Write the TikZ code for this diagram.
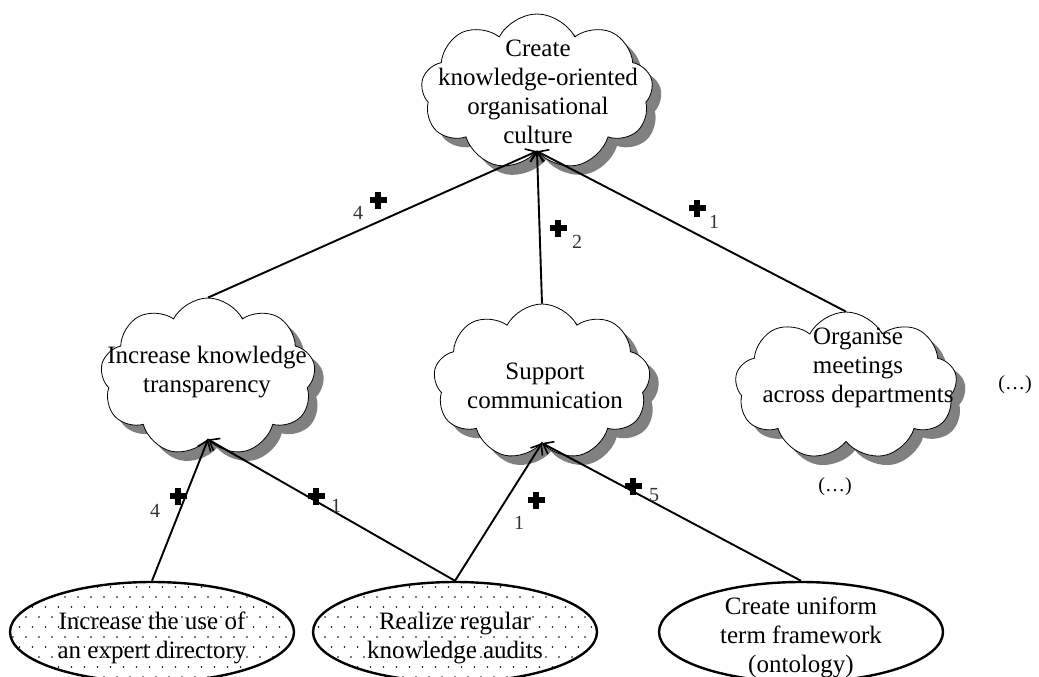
\documentclass[tikz,border=0pt]{standalone}
\usepackage{fontspec}
\setmainfont{Liberation Serif}
\usetikzlibrary{shapes.symbols,shapes.geometric,shadows,arrows.meta,patterns}
\pgfdeclarepatternformonly{sparsedots}{\pgfqpoint{-1pt}{-1pt}}{\pgfqpoint{8pt}{11pt}}{\pgfqpoint{13pt}{20pt}}{%
  \pgfpathcircle{\pgfqpoint{0pt}{0pt}}{0.9pt}%
  \pgfpathcircle{\pgfqpoint{6.5pt}{10pt}}{0.9pt}%
  \pgfusepath{fill}}
\newcommand\heavyplus{\rlap{\rule[5.5pt]{17pt}{6pt}}\hspace*{5.5pt}\rule{6pt}{17pt}\hspace*{5.5pt}}
\tikzset{
  goalcloud/.style={cloud, cloud puffs=9, cloud puff arc=125, cloud ignores aspect,
    draw, fill=white, line width=0.8pt, inner sep=0pt,
    drop shadow={shadow xshift=9pt, shadow yshift=-9pt, fill=black!50, opacity=1}},
  goaltext/.style={align=center, font=\fontsize{25}{29}\selectfont, inner sep=0pt},
  measure/.style={ellipse, draw, line width=2.4pt, minimum width=284pt, minimum height=100pt, inner sep=0pt},
  dotted fill/.style={pattern=sparsedots},
  contrib/.style={line width=1.9pt, -{Straight Barb[length=9pt,width=14pt,line width=1.6pt]}},
  plusmark/.style={inner sep=0pt},
  weight/.style={font=\fontsize{20}{20}\selectfont, text=black!80, inner sep=0pt},
  ellip/.style={font=\fontsize{20}{20}\selectfont, inner sep=0pt}
}
\begin{document}
\begin{tikzpicture}[x=1pt,y=-1pt]
\useasboundingbox (0,0) rectangle (1039,677);
% clouds
\node[goalcloud, minimum width=232pt, minimum height=156pt] (c1) at (537,92) {};
\node[goalcloud, minimum width=215pt, minimum height=158pt] (c2) at (208,377) {};
\node[goalcloud, minimum width=217pt, minimum height=156pt] (c3) at (542,382) {};
\node[goalcloud, minimum width=222pt, minimum height=148pt] (c4) at (846,386) {};
\node[goaltext] (t1) at (538,92) {Create\\knowledge-oriented\\organisational\\culture};
\node[goaltext] (t2) at (207,372) {Increase knowledge\\transparency};
\node[goaltext] (t3) at (545,386) {Support\\communication};
\node[goaltext] (t4) at (858,368) {Organise\\meetings\\across departments};
% measures
\node[measure, dotted fill] (e1) at (152,632) {};
\node[measure, dotted fill] (e2) at (455,632) {};
\node[measure, fill=white] (e3) at (801,632) {};
\node[goaltext] (u1) at (152,638) {Increase the use of\\an expert directory};
\node[goaltext] (u2) at (455,638) {Realize regular\\knowledge audits};
\node[goaltext] (u3) at (801,637) {Create uniform\\term framework\\(ontology)};
% connectors
\draw[contrib] (c2.north) -- (c1.south);
\draw[contrib] (c3.north) -- (c1.south);
\draw[contrib] (c4.north) -- (c1.south);
\draw[contrib] (e1.north) -- (c2.south);
\draw[contrib] (e2.north) -- (c2.south);
\draw[contrib] (e2.north) -- (c3.south);
\draw[contrib] (e3.north) -- (c3.south);
% weights
\node[weight] (w1) at (358,213) {4};
\node[plusmark] (p1) at (378,200) {\heavyplus};
\node[plusmark] (p2) at (558,228) {\heavyplus};
\node[weight] (w2) at (577,242) {2};
\node[plusmark] (p3) at (697,208) {\heavyplus};
\node[weight] (w3) at (714,222) {1};
\node[weight] (w4) at (155,511) {4};
\node[plusmark] (p4) at (178,496) {\heavyplus};
\node[plusmark] (p5) at (316,496) {\heavyplus};
\node[weight] (w5) at (336,506) {1};
\node[plusmark] (p6) at (536,500) {\heavyplus};
\node[weight] (w6) at (519,523) {1};
\node[plusmark] (p7) at (633,486) {\heavyplus};
\node[weight] (w7) at (654,495) {5};
% ellipses
\node[ellip] (d1) at (1015,385) {(…)};
\node[ellip] (d2) at (835,487) {(…)};
\end{tikzpicture}
\end{document}
